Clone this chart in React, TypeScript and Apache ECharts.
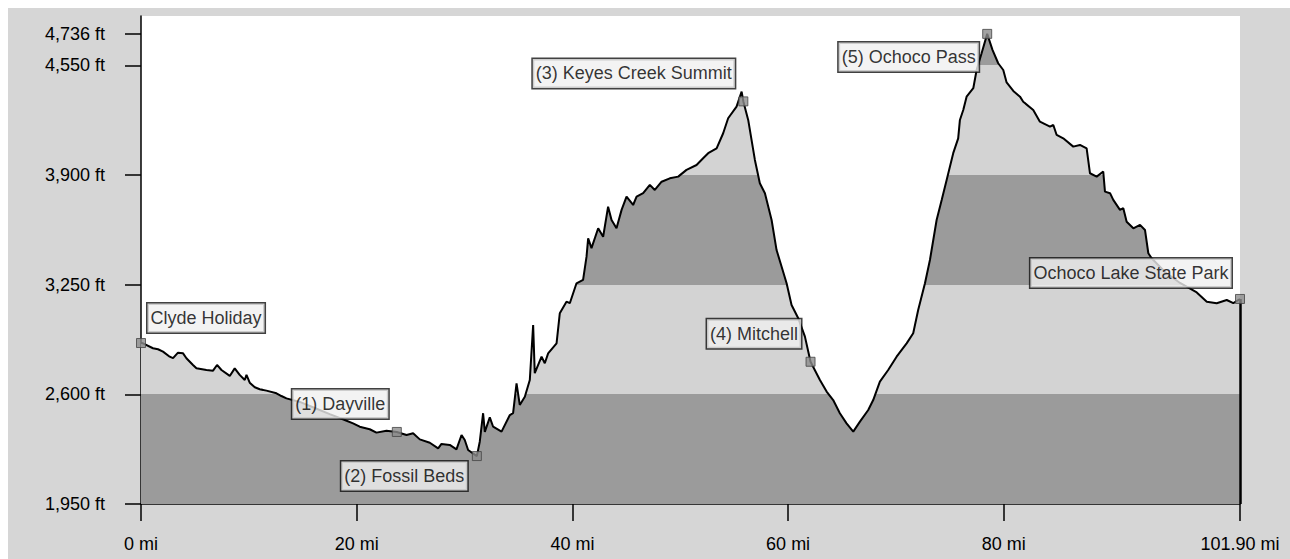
import React, { useEffect, useRef } from "react";
import * as echarts from "echarts";

// ---- data ----
const miles = [
  0, 0.19, 1.11, 1.58, 2.04, 2.66, 2.97, 3.43, 3.9, 4.21,
  4.82, 5.14, 6.07, 6.68, 7.05, 7.46, 8.23, 8.69, 9.15, 9.62,
  9.78, 10.08, 10.55, 11.01, 11.63, 12.56, 13.02, 13.49, 14.72, 16.11,
  17.5, 18.89, 19.66, 20.28, 21.21, 21.83, 22.76, 23.72, 24.62, 25.23,
  25.85, 26.78, 27.55, 27.86, 28.63, 29.25, 29.72, 30.02, 30.33, 31.14,
  31.41, 31.72, 31.88, 32.34, 32.65, 33.43, 34.2, 34.5, 34.82, 35.12,
  35.59, 36.05, 36.36, 36.51, 37.14, 37.44, 37.75, 38.53, 38.83, 39.45,
  39.76, 40.38, 40.99, 41.31, 41.46, 41.77, 42.39, 42.85, 43.31, 43.63,
  44.09, 44.56, 45.02, 45.63, 45.95, 46.56, 47.18, 47.64, 48.27, 49.03,
  49.81, 50.58, 51.51, 52.12, 52.59, 53.37, 53.98, 54.44, 55.22, 55.69,
  55.85, 56.3, 56.92, 57.38, 57.85, 58.47, 58.93, 59.4, 59.86, 60.32,
  60.94, 61.56, 62.08, 62.95, 63.57, 64.18, 64.8, 65.42, 66.04, 66.66,
  67.43, 67.89, 68.51, 69.28, 70.06, 70.99, 71.6, 72.06, 72.69, 73.15,
  73.77, 74.24, 74.7, 75.31, 75.77, 75.93, 76.24, 76.55, 77.17, 77.48,
  77.94, 78.46, 78.95, 79.48, 79.95, 80.26, 80.88, 81.5, 81.8, 82.73,
  83.35, 84.28, 84.59, 84.9, 85.51, 86.44, 87.06, 87.68, 87.99, 88.61,
  89.22, 89.38, 89.85, 90.15, 90.77, 91.08, 91.39, 92.01, 92.63, 93.09,
  93.4, 93.71, 94.95, 96.34, 97.89, 98.82, 99.74, 100.67, 101.28, 101.9,
];

const elevations = [
  2904, 2902, 2873, 2867, 2853, 2823, 2814, 2847, 2843, 2814,
  2774, 2754, 2744, 2740, 2774, 2744, 2709, 2754, 2715, 2685,
  2715, 2669, 2642, 2630, 2622, 2606, 2590, 2576, 2555, 2519,
  2483, 2448, 2428, 2408, 2393, 2373, 2384, 2377, 2359, 2369,
  2333, 2313, 2280, 2306, 2300, 2274, 2359, 2329, 2270, 2234,
  2319, 2488, 2377, 2463, 2408, 2379, 2477, 2488, 2665, 2537,
  2586, 2685, 3011, 2725, 2823, 2784, 2843, 2902, 3080, 3149,
  3140, 3258, 3278, 3416, 3525, 3466, 3584, 3534, 3712, 3633,
  3584, 3693, 3771, 3722, 3771, 3792, 3841, 3811, 3860, 3880,
  3890, 3930, 3959, 3999, 4029, 4058, 4147, 4236, 4305, 4394,
  4336, 4226, 3989, 3851, 3792, 3633, 3455, 3356, 3258, 3129,
  3051, 2942, 2793, 2685, 2616, 2566, 2488, 2428, 2379, 2438,
  2507, 2566, 2675, 2744, 2823, 2902, 2962, 3100, 3258, 3396,
  3633, 3752, 3870, 4029, 4117, 4226, 4285, 4364, 4414, 4522,
  4621, 4736, 4641, 4562, 4522, 4448, 4398, 4364, 4334, 4285,
  4216, 4186, 4196, 4137, 4117, 4068, 4078, 4058, 3910, 3890,
  3920, 3801, 3792, 3752, 3693, 3703, 3623, 3584, 3604, 3574,
  3436, 3406, 3325, 3260, 3204, 3149, 3140, 3159, 3140, 3165,
];

const waypointNames = [
  "Clyde Holiday",
  "(1) Dayville",
  "(2) Fossil Beds",
  "(3) Keyes Creek Summit",
  "(4) Mitchell",
  "(5) Ochoco Pass",
  "Ochoco Lake State Park",
];
const waypointMiles = [0, 23.72, 31.14, 55.85, 62.08, 78.46, 101.9];
const waypointElevations = [2904, 2377, 2234, 4336, 2793, 4736, 3165];

const xTickValues = [0, 20, 40, 60, 80, 101.9];
const xTickLabels = ["0 mi", "20 mi", "40 mi", "60 mi", "80 mi", "101.90 mi"];
const yTickValues = [1950, 2600, 3250, 3900, 4550, 4736];
const yTickLabels = ["1,950 ft", "2,600 ft", "3,250 ft", "3,900 ft", "4,550 ft", "4,736 ft"];
const bandEdges = [1950, 2600, 3250, 3900, 4550];

// ---- styling ----
const FONT = "'Liberation Sans', Arial, sans-serif";
const FONT_SIZE = 18;
const DARK = "#9b9b9b";
const LIGHT = "#d3d3d3";
const FRAME = "#d6d6d6";
const SYMBOL = 9;

// label box anchor offsets from the marker centre (style only)
const labelLayout = [
  { align: "left", dx: 7, dy: -39 },
  { align: "right", dx: -8, dy: -42 },
  { align: "right", dx: -9, dy: 6 },
  { align: "right", dx: -8, dy: -42 },
  { align: "right", dx: -9, dy: -42 },
  { align: "right", dx: -8, dy: 9 },
  { align: "right", dx: -8, dy: -40 },
];

function pick(values: number[], labels: string[], v: number) {
  for (let i = 0; i < values.length; i++) {
    if (Math.abs(values[i] - v) < 1e-6) return labels[i];
  }
  return "";
}

export default function App() {
  const ref = useRef<HTMLDivElement>(null);

  useEffect(() => {
    if (!ref.current) return;
    const chart = echarts.init(ref.current, null, { renderer: "svg" });

    const profile = miles.map((m, i) => [m, elevations[i]]);
    const pieces = bandEdges.map((lo, i) => {
      const color = i % 2 === 0 ? DARK : LIGHT;
      return i < bandEdges.length - 1
        ? { gte: lo, lt: bandEdges[i + 1], color }
        : { gte: lo, color };
    });

    const waypoints = waypointNames.map((name, i) => ({
      name,
      value: [waypointMiles[i], waypointElevations[i]],
      label: {
        position: [labelLayout[i].dx + SYMBOL / 2, labelLayout[i].dy + SYMBOL / 2],
        align: labelLayout[i].align,
      },
    }));

    const lastX = miles[miles.length - 1];
    const lastY = elevations[elevations.length - 1];

    chart.setOption({
      animation: false,
      backgroundColor: FRAME,
      grid: {
        left: 133,
        right: 50,
        top: 8,
        bottom: 55,
        show: true,
        backgroundColor: "#ffffff",
        borderWidth: 0,
      },
      xAxis: {
        type: "value",
        min: 0,
        max: 101.9,
        splitLine: { show: false },
        axisLine: { show: true, onZero: false, lineStyle: { color: "#000", width: 1.5 } },
        axisTick: {
          show: true,
          length: 17,
          customValues: xTickValues,
          lineStyle: { color: "#000", width: 1.5 },
        },
        axisLabel: {
          customValues: xTickValues,
          formatter: (v: number) => pick(xTickValues, xTickLabels, v),
          margin: 31,
          color: "#000",
          fontSize: FONT_SIZE,
          fontFamily: FONT,
        },
      },
      yAxis: {
        type: "value",
        min: 1950,
        max: 4842,
        splitLine: { show: false },
        axisLine: { show: true, onZero: false, lineStyle: { color: "#000", width: 1.5 } },
        axisTick: {
          show: true,
          length: 16,
          customValues: yTickValues,
          lineStyle: { color: "#000", width: 1.5 },
        },
        axisLabel: {
          customValues: yTickValues,
          formatter: (v: number) => pick(yTickValues, yTickLabels, v),
          margin: 36,
          color: "#000",
          fontSize: FONT_SIZE,
          fontFamily: FONT,
        },
      },
      visualMap: {
        show: false,
        type: "piecewise",
        seriesIndex: 0,
        dimension: 1,
        pieces,
      },
      series: [
        {
          type: "line",
          data: profile,
          showSymbol: false,
          smooth: false,
          z: 2,
          lineStyle: { color: "#000", width: 2 },
          areaStyle: { opacity: 1, origin: "start" },
          markLine: {
            silent: true,
            symbol: "none",
            label: { show: false },
            lineStyle: { color: "#000", width: 2.5, type: "solid" },
            data: [[{ coord: [lastX, lastY] }, { coord: [lastX, 1950] }]],
          },
        },
        {
          type: "scatter",
          data: waypoints,
          symbol: "rect",
          symbolSize: SYMBOL,
          z: 5,
          itemStyle: { color: "#8c8c8c", borderColor: "#444", borderWidth: 1 },
          label: {
            show: true,
            formatter: "{b}",
            verticalAlign: "top",
            color: "#000",
            fontSize: FONT_SIZE,
            fontFamily: FONT,
            lineHeight: 25,
            backgroundColor: "#f0f0f0",
            borderColor: "#111",
            borderWidth: 1.5,
            padding: [2, 3, 2, 3],
          },
        },
      ],
    });

    return () => chart.dispose();
  }, []);

  return (
    <div
      ref={ref}
      style={{ position: "fixed", left: 8, top: 8, width: 1282, height: 551 }}
    />
  );
}
